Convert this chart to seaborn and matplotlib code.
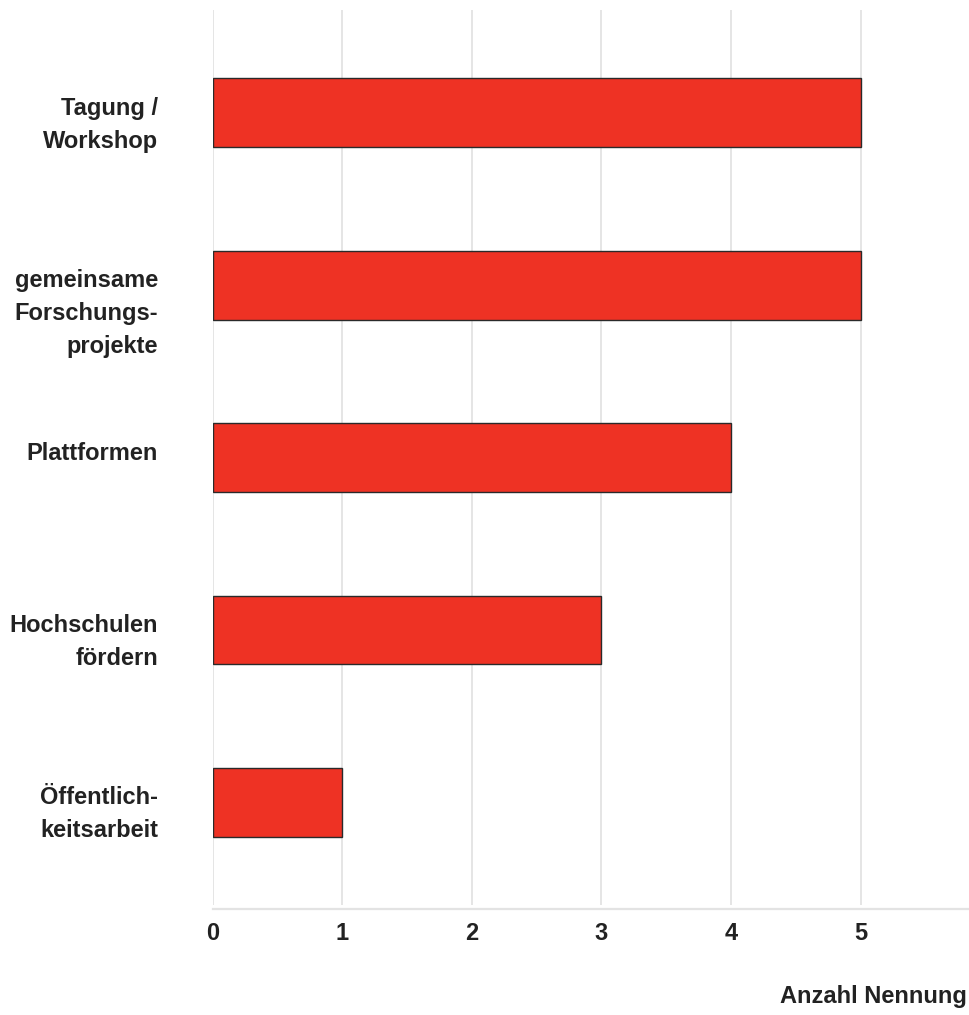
import matplotlib
matplotlib.use("Agg")
import matplotlib.pyplot as plt
import matplotlib.transforms as mtransforms
import seaborn as sns
import pandas as pd

# Kategorien und Anzahl der Nennungen
categories = [
    "Tagung /\nWorkshop",
    "gemeinsame\nForschungs-\nprojekte",
    "Plattformen",
    "Hochschulen\nfördern",
    "Öffentlich-\nkeitsarbeit",
]
counts = [5, 5, 4, 3, 1]
x_ticks = [0, 1, 2, 3, 4, 5]
x_label = "Anzahl Nennung"

BAR_COLOR = "#EE3224"
TEXT_COLOR = "#222222"
GRID_COLOR = "#e3e3e3"

sns.set_theme(style="white")
plt.rcParams["font.family"] = ["Liberation Sans", "DejaVu Sans"]
plt.rcParams["font.weight"] = "bold"

df = pd.DataFrame({"kategorie": categories, "anzahl": counts})

W, H = 969, 1015
fig = plt.figure(figsize=(W / 100, H / 100), dpi=100)
ax = fig.add_axes([212.5 / W, 1 - 905 / H, 1 - 212.5 / W, (905 - 10) / H])

sns.barplot(
    data=df, y="kategorie", x="anzahl", orient="h", ax=ax,
    color=BAR_COLOR, width=0.4, edgecolor="#2a2a2a", linewidth=1.0,
    saturation=1.0, zorder=3,
)
for p in ax.patches:
    p.set_facecolor(BAR_COLOR)

# spines first: moving a spine resets the tick labels
for side in ["top", "right", "left"]:
    ax.spines[side].set_visible(False)
ax.spines["bottom"].set_position(("outward", 3))
ax.spines["bottom"].set_color(GRID_COLOR)
ax.spines["bottom"].set_linewidth(1.6)

ax.set_xlim(0, 5.837)
ax.set_ylim(4.595, -0.596)

ax.set_xticks(x_ticks)
ax.set_xticklabels([str(t) for t in x_ticks])
ax.tick_params(axis="x", length=0, pad=9, labelsize=17,
               labelcolor=TEXT_COLOR)
for t in ax.get_xticklabels():
    t.set_fontweight("bold")
ax.xaxis.grid(True, color=GRID_COLOR, linewidth=1.3, zorder=0)
ax.yaxis.grid(False)

# category labels, first line level with the bar centre
ax.set_yticks(range(len(categories)))
ax.set_yticklabels([])
ax.tick_params(axis="y", length=0)
trans = mtransforms.blended_transform_factory(ax.transAxes, ax.transData)
offset = mtransforms.ScaledTranslation(0, 11.5 / 72, fig.dpi_scale_trans)
for i, lab in enumerate(categories):
    ax.text(-54.5 / (W - 212.5), i, lab, transform=trans + offset,
            ha="right", va="top", fontsize=17, fontweight="bold",
            color=TEXT_COLOR, linespacing=1.55, multialignment="right")

ax.set_xlabel("")
ax.set_ylabel("")

fig.text(967 / W, 1 - 997 / H, x_label, ha="right", va="center",
         fontsize=17, fontweight="bold", color=TEXT_COLOR)

fig.savefig("out.png", dpi=100)
